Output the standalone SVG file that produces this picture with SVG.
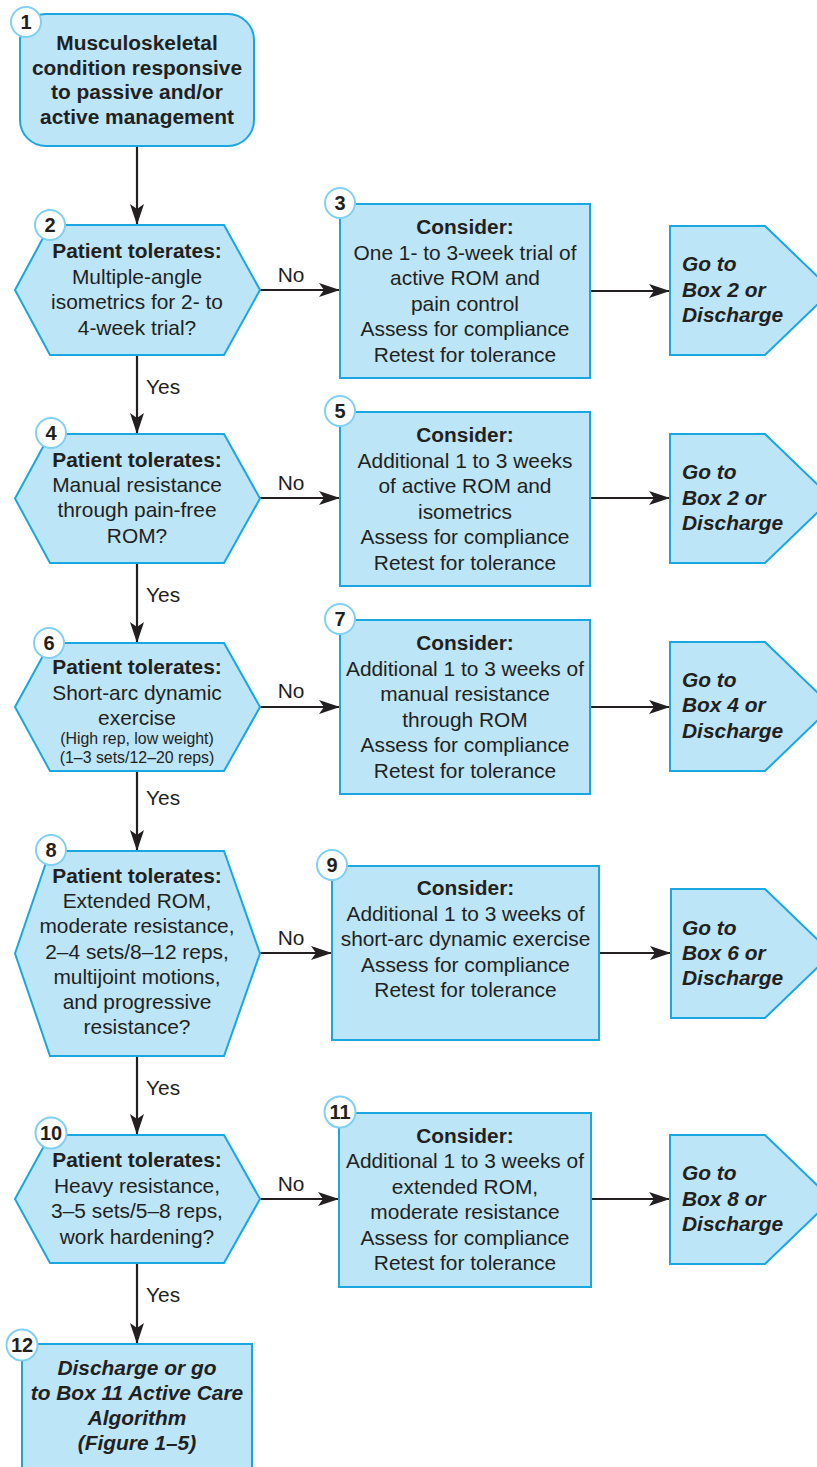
<svg xmlns="http://www.w3.org/2000/svg" width="817" height="1467" viewBox="0 0 817 1467">
  <style>
    .shape { fill: #bce5f8; stroke: #1aa7e0; stroke-width: 2; }
    .badge { fill: #ffffff; stroke: #7fd0f2; stroke-width: 2; }
    .num { font-family: "Liberation Sans", Arial, sans-serif; font-size: 20px; font-weight: bold; fill: #231f20; text-anchor: middle; }
    .t { font-family: "Liberation Sans", Arial, sans-serif; font-size: 20.9px; fill: #231f20; text-anchor: middle; }
    .b { font-weight: bold; }
    .bi { font-weight: bold; font-style: italic; }
    .s { font-size: 15.9px; }
    .go { font-family: "Liberation Sans", Arial, sans-serif; font-size: 20.9px; font-weight: bold; font-style: italic; fill: #231f20; }
    .lbl { font-family: "Liberation Sans", Arial, sans-serif; font-size: 20.9px; fill: #231f20; }
    .wire { stroke: #231f20; stroke-width: 2.2; fill: none; marker-end: url(#arrow); }
  </style>
  <defs>
    <marker id="arrow" markerUnits="userSpaceOnUse" viewBox="-22 -8 23 16" refX="0" refY="0" markerWidth="23" markerHeight="16" orient="auto">
      <path d="M0,0 L-21,-7 L-16,0 L-21,7 Z" fill="#231f20"/>
    </marker>
  </defs>

  <rect width="817" height="1467" fill="#ffffff"/>

  <!-- connectors -->
  <g id="connectors">
    <line class="wire" x1="137" y1="146" x2="137" y2="225"/>
    <line class="wire" x1="137" y1="355" x2="137" y2="434"/>
    <line class="wire" x1="137" y1="563" x2="137" y2="643"/>
    <line class="wire" x1="137" y1="771" x2="137" y2="851"/>
    <line class="wire" x1="137" y1="1056" x2="137" y2="1135"/>
    <line class="wire" x1="137" y1="1263" x2="137" y2="1344"/>

    <line class="wire" x1="260" y1="290" x2="340" y2="290"/>
    <line class="wire" x1="590" y1="291" x2="670" y2="291"/>
    <line class="wire" x1="260" y1="498" x2="340" y2="498"/>
    <line class="wire" x1="590" y1="498" x2="670" y2="498"/>
    <line class="wire" x1="260" y1="707" x2="340" y2="707"/>
    <line class="wire" x1="590" y1="707" x2="670" y2="707"/>
    <line class="wire" x1="260" y1="953" x2="332" y2="953"/>
    <line class="wire" x1="599" y1="953" x2="671" y2="953"/>
    <line class="wire" x1="260" y1="1199" x2="339" y2="1199"/>
    <line class="wire" x1="591" y1="1199" x2="670" y2="1199"/>

    <text class="lbl" x="291" y="282" text-anchor="middle">No</text>
    <text class="lbl" x="291" y="490" text-anchor="middle">No</text>
    <text class="lbl" x="291" y="698" text-anchor="middle">No</text>
    <text class="lbl" x="291" y="945" text-anchor="middle">No</text>
    <text class="lbl" x="291" y="1191" text-anchor="middle">No</text>

    <text class="lbl" x="146" y="394">Yes</text>
    <text class="lbl" x="146" y="602">Yes</text>
    <text class="lbl" x="146" y="805">Yes</text>
    <text class="lbl" x="146" y="1095">Yes</text>
    <text class="lbl" x="146" y="1302">Yes</text>
  </g>

  <!-- 1: start -->
  <g id="node1">
    <rect class="shape" x="20" y="14" width="234" height="132" rx="26" ry="26"/>
    <text class="t b" x="137" y="50">Musculoskeletal</text>
    <text class="t b" x="137" y="74.7">condition responsive</text>
    <text class="t b" x="137" y="99.3">to passive and/or</text>
    <text class="t b" x="137" y="124">active management</text>
    <circle class="badge" cx="26" cy="22" r="15"/>
    <text class="num" x="26" y="29">1</text>
  </g>

  <!-- 2 -->
  <g id="node2">
    <polygon class="shape" points="15,290 50,225 224,225 260,290 224,355 50,355"/>
    <text class="t b" x="137" y="258">Patient tolerates:</text>
    <text class="t" x="137" y="283.5">Multiple-angle</text>
    <text class="t" x="137" y="309">isometrics for 2- to</text>
    <text class="t" x="137" y="335">4-week trial?</text>
    <circle class="badge" cx="50" cy="225" r="15"/>
    <text class="num" x="50" y="232">2</text>
  </g>

  <!-- 3 -->
  <g id="node3">
    <rect class="shape" x="340" y="204" width="250" height="174"/>
    <text class="t b" x="465" y="234">Consider:</text>
    <text class="t" x="465" y="259.5">One 1- to 3-week trial of</text>
    <text class="t" x="465" y="285">active ROM and</text>
    <text class="t" x="465" y="310.5">pain control</text>
    <text class="t" x="465" y="336">Assess for compliance</text>
    <text class="t" x="465" y="361.5">Retest for tolerance</text>
    <circle class="badge" cx="340" cy="203" r="15"/>
    <text class="num" x="340" y="210">3</text>
  </g>

  <g id="goto3">
    <polygon class="shape" points="670,226 765,226 832,290.5 765,355 670,355"/>
    <text class="go" x="682" y="271">Go to</text>
    <text class="go" x="682" y="297">Box 2 or</text>
    <text class="go" x="682" y="322">Discharge</text>
  </g>

  <!-- 4 -->
  <g id="node4">
    <polygon class="shape" points="15,498.5 50,434 224,434 260,498.5 224,563 50,563"/>
    <text class="t b" x="137" y="467">Patient tolerates:</text>
    <text class="t" x="137" y="492">Manual resistance</text>
    <text class="t" x="137" y="517">through pain-free</text>
    <text class="t" x="137" y="543">ROM?</text>
    <circle class="badge" cx="51" cy="433" r="15"/>
    <text class="num" x="51" y="440">4</text>
  </g>

  <!-- 5 -->
  <g id="node5">
    <rect class="shape" x="340" y="412" width="250" height="174"/>
    <text class="t b" x="465" y="442">Consider:</text>
    <text class="t" x="465" y="467.5">Additional 1 to 3 weeks</text>
    <text class="t" x="465" y="493">of active ROM and</text>
    <text class="t" x="465" y="518.5">isometrics</text>
    <text class="t" x="465" y="544">Assess for compliance</text>
    <text class="t" x="465" y="569.5">Retest for tolerance</text>
    <circle class="badge" cx="340" cy="411" r="15"/>
    <text class="num" x="340" y="418">5</text>
  </g>

  <g id="goto5">
    <polygon class="shape" points="670,434 765,434 832,498.5 765,563 670,563"/>
    <text class="go" x="682" y="479">Go to</text>
    <text class="go" x="682" y="505">Box 2 or</text>
    <text class="go" x="682" y="530">Discharge</text>
  </g>

  <!-- 6 -->
  <g id="node6">
    <polygon class="shape" points="15,707 50,643 224,643 260,707 224,771 50,771"/>
    <text class="t b" x="137" y="674">Patient tolerates:</text>
    <text class="t" x="137" y="700">Short-arc dynamic</text>
    <text class="t" x="137" y="725">exercise</text>
    <text class="t s" x="137" y="744">(High rep, low weight)</text>
    <text class="t s" x="137" y="763">(1–3 sets/12–20 reps)</text>
    <circle class="badge" cx="49" cy="643" r="15"/>
    <text class="num" x="49" y="650">6</text>
  </g>

  <!-- 7 -->
  <g id="node7">
    <rect class="shape" x="340" y="620" width="250" height="174"/>
    <text class="t b" x="465" y="650">Consider:</text>
    <text class="t" x="465" y="675.5">Additional 1 to 3 weeks of</text>
    <text class="t" x="465" y="701">manual resistance</text>
    <text class="t" x="465" y="726.5">through ROM</text>
    <text class="t" x="465" y="752">Assess for compliance</text>
    <text class="t" x="465" y="777.5">Retest for tolerance</text>
    <circle class="badge" cx="340" cy="619" r="15"/>
    <text class="num" x="340" y="626">7</text>
  </g>

  <g id="goto7">
    <polygon class="shape" points="670,642 765,642 832,706.5 765,771 670,771"/>
    <text class="go" x="682" y="687">Go to</text>
    <text class="go" x="682" y="712">Box 4 or</text>
    <text class="go" x="682" y="738">Discharge</text>
  </g>

  <!-- 8 -->
  <g id="node8">
    <polygon class="shape" points="15,953.5 50,851 224,851 260,953.5 224,1056 50,1056"/>
    <text class="t b" x="137" y="883">Patient tolerates:</text>
    <text class="t" x="137" y="908">Extended ROM,</text>
    <text class="t" x="137" y="933">moderate resistance,</text>
    <text class="t" x="137" y="958.5">2–4 sets/8–12 reps,</text>
    <text class="t" x="137" y="984">multijoint motions,</text>
    <text class="t" x="137" y="1009">and progressive</text>
    <text class="t" x="137" y="1034">resistance?</text>
    <circle class="badge" cx="51" cy="850" r="15"/>
    <text class="num" x="51" y="857">8</text>
  </g>

  <!-- 9 -->
  <g id="node9">
    <rect class="shape" x="332" y="866" width="267" height="174"/>
    <text class="t b" x="465.5" y="895">Consider:</text>
    <text class="t" x="465.5" y="921">Additional 1 to 3 weeks of</text>
    <text class="t" x="465.5" y="946">short-arc dynamic exercise</text>
    <text class="t" x="465.5" y="972">Assess for compliance</text>
    <text class="t" x="465.5" y="997">Retest for tolerance</text>
    <circle class="badge" cx="332" cy="865" r="15"/>
    <text class="num" x="332" y="872">9</text>
  </g>

  <g id="goto9">
    <polygon class="shape" points="671,889 765,889 832,953.5 765,1018 671,1018"/>
    <text class="go" x="682" y="935">Go to</text>
    <text class="go" x="682" y="960">Box 6 or</text>
    <text class="go" x="682" y="985">Discharge</text>
  </g>

  <!-- 10 -->
  <g id="node10">
    <polygon class="shape" points="15,1199 50,1135 224,1135 260,1199 224,1263 50,1263"/>
    <text class="t b" x="137" y="1167">Patient tolerates:</text>
    <text class="t" x="137" y="1193">Heavy resistance,</text>
    <text class="t" x="137" y="1218">3–5 sets/5–8 reps,</text>
    <text class="t" x="137" y="1244">work hardening?</text>
    <circle class="badge" cx="51" cy="1133" r="15.5"/>
    <text class="num" x="51" y="1140">10</text>
  </g>

  <!-- 11 -->
  <g id="node11">
    <rect class="shape" x="339" y="1113" width="252" height="174"/>
    <text class="t b" x="465" y="1143">Consider:</text>
    <text class="t" x="465" y="1168">Additional 1 to 3 weeks of</text>
    <text class="t" x="465" y="1194">extended ROM,</text>
    <text class="t" x="465" y="1219">moderate resistance</text>
    <text class="t" x="465" y="1245">Assess for compliance</text>
    <text class="t" x="465" y="1270">Retest for tolerance</text>
    <circle class="badge" cx="340" cy="1112" r="15.5"/>
    <text class="num" x="340" y="1119">11</text>
  </g>

  <g id="goto11">
    <polygon class="shape" points="670,1135 765,1135 832,1199.5 765,1264 670,1264"/>
    <text class="go" x="682" y="1180">Go to</text>
    <text class="go" x="682" y="1206">Box 8 or</text>
    <text class="go" x="682" y="1231">Discharge</text>
  </g>

  <!-- 12: end -->
  <g id="node12">
    <rect class="shape" x="22" y="1344" width="230" height="140"/>
    <text class="t bi" x="137" y="1375">Discharge or go</text>
    <text class="t bi" x="137" y="1400">to Box 11 Active Care</text>
    <text class="t bi" x="137" y="1425">Algorithm</text>
    <text class="t bi" x="137" y="1450">(Figure 1–5)</text>
    <circle class="badge" cx="22" cy="1345" r="15.5"/>
    <text class="num" x="22" y="1352">12</text>
  </g>
</svg>
